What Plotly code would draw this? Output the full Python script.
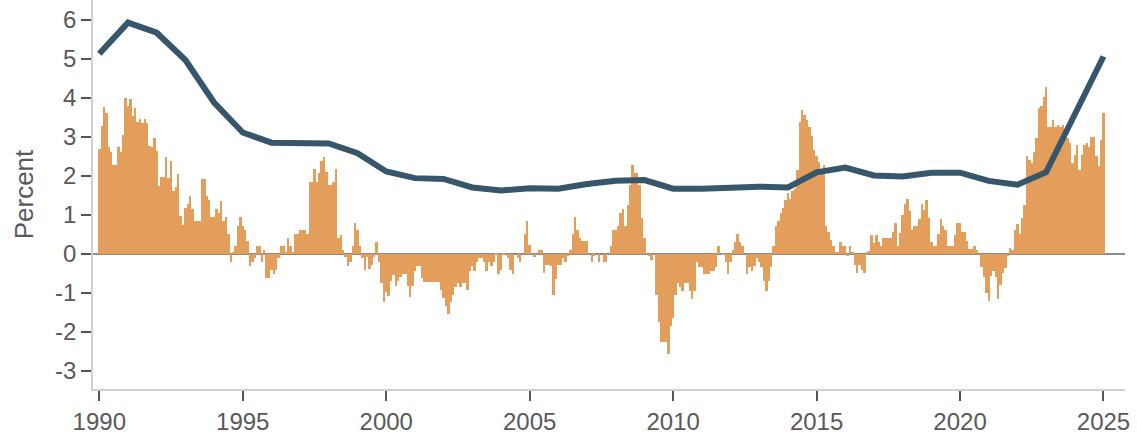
import plotly.graph_objects as go

# Monthly values, Jan 1990 .. Jan 2025 (percent)
bar_values = [
    2.68, 3.28, 3.76, 3.62, 2.75, 2.62, 2.28, 2.28, 2.74, 2.62, 3.04, 3.99,   # 1990
    3.78, 3.97, 3.54, 3.73, 3.37, 3.45, 3.35, 3.45, 3.35, 2.77, 2.74, 2.96,   # 1991
    2.63, 1.73, 1.97, 1.97, 2.48, 1.94, 2.37, 1.62, 1.71, 2.04, 0.96, 0.74,   # 1992
    1.17, 1.28, 1.49, 1.16, 0.85, 0.85, 0.85, 1.91, 1.91, 1.47, 1.37, 0.94,   # 1993
    0.94, 1.15, 1.04, 1.35, 0.83, 0.94, 0.51, -0.21, 0.02, 0.2, 0.72, 0.94,   # 1994
    0.72, 0.62, 0.32, -0.32, -0.2, -0.11, 0.2, 0.2, -0.21, 0.1, -0.62, -0.62, # 1995
    -0.41, -0.51, -0.41, -0.11, 0.2, 0.2, 0.02, 0.4, 0.2, 0.02, 0.51, 0.51,   # 1996
    0.62, 0.62, 0.62, 0.51, 1.85, 1.85, 2.17, 1.85, 2.07, 2.37, 2.48, 2.11,   # 1997
    1.77, 1.77, 1.85, 2.17, 0.4, 0.49, 0.1, -0.09, -0.31, -0.2, 0.19, 0.8,    # 1998
    0.6, 0.19, -0.11, -0.41, -0.09, -0.39, -0.28, -0.09, 0.29, -0.2, -0.74, -1.23,  # 1999
    -0.97, -1.09, -0.71, -0.54, -0.82, -0.71, -0.6, -0.51, -0.51, -0.84, -1.11, -0.82,  # 2000
    -0.43, -0.32, -0.32, -0.62, -0.72, -0.72, -0.72, -0.72, -0.72, -0.72, -0.72, -0.92,  # 2001
    -1.14, -1.33, -1.54, -1.25, -1.05, -0.85, -0.74, -0.85, -0.74, -0.75, -0.92, -0.43,  # 2002
    -0.31, -0.43, -0.2, -0.11, -0.11, -0.22, -0.43, -0.2, -0.31, -0.2, -0.03, -0.51,    # 2003
    -0.41, -0.03, 0.0, -0.11, -0.41, -0.51, 0.0, -0.11, -0.22, 0.0, 0.51, 0.83,          # 2004
    0.23, 0.0, -0.09, 0.0, 0.1, 0.1, -0.5, -0.3, -0.28, -0.32, -1.05, -0.65,             # 2005
    -0.28, -0.28, -0.11, -0.2, -0.05, 0.1, 0.51, 0.94, 0.62, 0.4, 0.32, 0.32,            # 2006
    0.32, 0.0, -0.2, -0.05, 0.0, -0.2, 0.0, -0.2, -0.2, 0.0, 0.19, 0.62,                 # 2007
    0.62, 0.7, 1.04, 1.15, 0.7, 1.26, 1.77, 2.28, 2.07, 2.07, 1.77, 0.91,                # 2008
    0.4, 0.0, -0.07, -0.17, 0.0, -1.05, -1.75, -2.26, -2.26, -2.26, -2.56, -1.86,        # 2009
    -1.65, -1.07, -0.74, -0.85, -0.96, -0.74, -0.74, -0.96, -1.17, -0.96, -0.22, -0.33,  # 2010
    -0.33, -0.51, -0.51, -0.51, -0.43, -0.43, -0.33, 0.19, 0.0, -0.04, -0.21, -0.53,     # 2011
    -0.21, 0.1, 0.29, 0.51, 0.29, 0.19, 0.0, -0.51, -0.33, -0.43, -0.31, -0.11,          # 2012
    -0.2, -0.33, -0.71, -0.95, -0.71, -0.33, 0.2, 0.7, 0.85, 1.04, 1.17, 1.38,           # 2013
    1.57, 1.4, 1.6, 1.66, 2.15, 3.39, 3.68, 3.56, 3.44, 3.25, 3.03, 2.67,                # 2014
    2.5, 2.35, 2.17, 2.28, 0.72, 0.57, 0.36, 0.19, 0.03, 0.02, 0.29, 0.19,               # 2015
    0.19, -0.07, 0.2, 0.02, -0.28, -0.5, -0.28, -0.41, -0.5, 0.02, 0.06, 0.49,           # 2016
    0.27, 0.49, 0.3, 0.19, 0.4, 0.4, 0.4, 0.4, 0.57, 0.8, 0.2, 0.53,                     # 2017
    1.0, 1.28, 1.4, 1.09, 0.6, 0.7, 0.7, 0.89, 1.28, 1.13, 1.38, 0.91,                   # 2018
    0.29, 0.2, 0.2, 0.51, 0.89, 0.7, 0.6, 0.2, 0.2, 0.2, 0.49, 0.79,                     # 2019
    0.79, 0.55, 0.57, 0.32, 0.12, 0.12, 0.19, 0.09, 0.0, -0.35, -0.6, -1.0,              # 2020
    -1.2, -0.57, -0.45, -0.6, -1.15, -0.8, -0.5, -0.37, -0.07, 0.16, 0.1, 0.62,          # 2021
    0.76, 0.5, 0.93, 1.24, 2.52, 2.41, 2.32, 2.62, 2.97, 3.74, 3.8, 4.03,                # 2022
    4.29, 3.26, 3.24, 3.44, 3.24, 3.31, 3.26, 3.3, 3.07, 2.98, 2.84, 2.32,               # 2023
    2.54, 2.79, 2.15, 2.54, 2.78, 2.84, 2.75, 3.0, 3.0, 2.5, 2.24, 2.92,                 # 2024
    3.6,                                                                                  # 2025
]
bar_start_year = 1990

# Annual line
line_years = [1990, 1991, 1992, 1993, 1994, 1995, 1996, 1997, 1998, 1999,
              2000, 2001, 2002, 2003, 2004, 2005, 2006, 2007, 2008, 2009,
              2010, 2011, 2012, 2013, 2014, 2015, 2016, 2017, 2018, 2019,
              2020, 2021, 2022, 2023, 2025]
line_values = [5.13, 5.93, 5.67, 4.97, 3.88, 3.11, 2.85, 2.84, 2.83, 2.58,
               2.11, 1.94, 1.92, 1.70, 1.62, 1.68, 1.67, 1.79, 1.87, 1.89,
               1.67, 1.67, 1.70, 1.72, 1.70, 2.09, 2.21, 2.01, 1.98, 2.08,
               2.08, 1.87, 1.77, 2.09, 5.06]

x_ticks = [1990, 1995, 2000, 2005, 2010, 2015, 2020, 2025]
y_ticks = [-3, -2, -1, 0, 1, 2, 3, 4, 5, 6]
y_tick_text = [str(v) for v in y_ticks]

bar_x = [bar_start_year + i / 12 for i in range(len(bar_values))]

BAR_COLOR = "#e39e5c"
LINE_COLOR = "#36566b"
TEXT_COLOR = "#595959"
FONT = "Liberation Sans, Arial, sans-serif"

fig = go.Figure()
fig.add_trace(go.Bar(x=bar_x, y=bar_values, width=1 / 12,
                     marker=dict(color=BAR_COLOR, line=dict(width=0)),
                     hoverinfo="skip"))
fig.add_trace(go.Scatter(x=line_years, y=line_values, mode="lines",
                         line=dict(color=LINE_COLOR, width=6)))

fig.update_layout(
    width=1137, height=436,
    margin=dict(l=93, r=12, t=0, b=47),
    plot_bgcolor="white", paper_bgcolor="white",
    showlegend=False, bargap=0,
    font=dict(family=FONT, color=TEXT_COLOR, size=24),
    xaxis=dict(range=[1989.78, 2025.75], tickvals=x_ticks,
               ticks="outside", ticklen=10, tickwidth=1.5, tickcolor="#555555",
               showline=True, linecolor="#d0d0d0", linewidth=1.5,
               showgrid=False, zeroline=False,
               tickfont=dict(size=24, color=TEXT_COLOR)),
    yaxis=dict(range=[-3.47, 6.51], tickvals=y_ticks, ticktext=y_tick_text,
               ticks="outside", ticklen=10, tickwidth=1.5, tickcolor="#555555",
               showline=True, linecolor="#d0d0d0", linewidth=1.5,
               showgrid=False, zeroline=True, zerolinecolor="#8c8c8c",
               zerolinewidth=1.5,
               tickfont=dict(size=24, color=TEXT_COLOR),
               title=dict(text="Percent", font=dict(size=26, color=TEXT_COLOR),
                          standoff=14)),
)

fig.write_html("out.html", config={"displayModeBar": False},
               post_script="document.body.style.margin='0';")
